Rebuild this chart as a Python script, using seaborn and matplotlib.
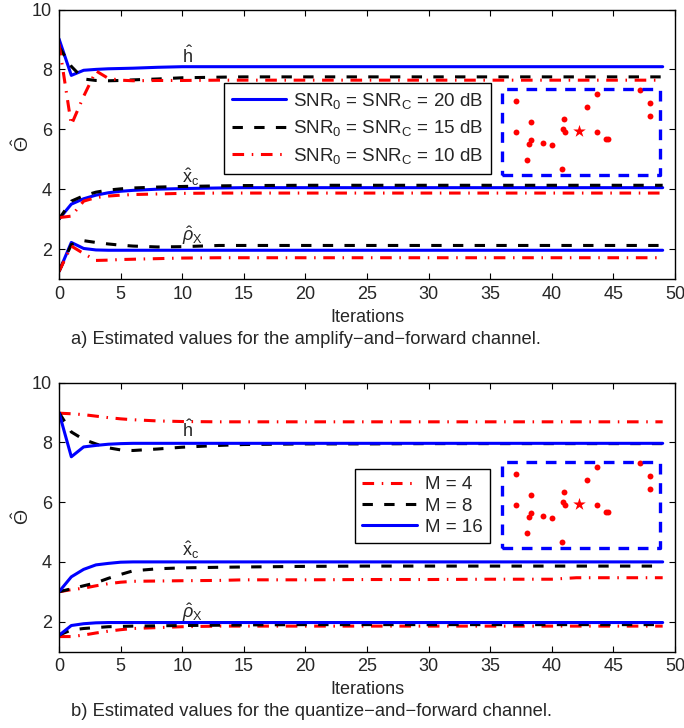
import matplotlib
matplotlib.use("Agg")
import matplotlib.pyplot as plt
from matplotlib.patches import Rectangle
import seaborn as sns
import pandas as pd

# ---------------- data ----------------
iters = [0, 1, 2, 3, 4, 5, 6, 8, 10, 13, 15, 20, 25, 30, 35, 40, 42, 45, 49]

# panel a) amplify-and-forward
a_h_20 = [9.02, 7.80, 7.97, 8.00, 8.02, 8.03, 8.04, 8.07, 8.09, 8.09, 8.09, 8.09, 8.09, 8.09, 8.09, 8.09, 8.09, 8.09, 8.09]
a_h_15 = [8.75, 8.10, 7.68, 7.63, 7.62, 7.63, 7.65, 7.68, 7.72, 7.74, 7.75, 7.75, 7.75, 7.75, 7.75, 7.75, 7.75, 7.75, 7.75]
a_h_10 = [8.85, 6.15, 7.10, 7.95, 7.70, 7.64, 7.62, 7.63, 7.63, 7.64, 7.64, 7.64, 7.64, 7.64, 7.64, 7.64, 7.64, 7.64, 7.64]
a_x_20 = [3.00, 3.50, 3.68, 3.80, 3.88, 3.93, 3.96, 4.00, 4.02, 4.04, 4.05, 4.05, 4.05, 4.05, 4.05, 4.05, 4.05, 4.05, 4.05]
a_x_15 = [3.00, 3.60, 3.78, 3.90, 3.97, 4.01, 4.04, 4.07, 4.09, 4.11, 4.12, 4.13, 4.13, 4.13, 4.13, 4.13, 4.13, 4.13, 4.13]
a_x_10 = [3.05, 3.10, 3.60, 3.72, 3.77, 3.80, 3.82, 3.84, 3.86, 3.87, 3.87, 3.87, 3.87, 3.87, 3.87, 3.87, 3.87, 3.87, 3.87]
a_r_20 = [1.25, 2.22, 2.02, 1.97, 1.96, 1.96, 1.96, 1.96, 1.96, 1.96, 1.96, 1.96, 1.96, 1.96, 1.96, 1.96, 1.96, 1.96, 1.96]
a_r_15 = [1.25, 2.15, 2.28, 2.22, 2.17, 2.13, 2.10, 2.07, 2.08, 2.12, 2.12, 2.12, 2.12, 2.12, 2.12, 2.12, 2.12, 2.12, 2.12]
a_r_10 = [1.25, 2.10, 1.85, 1.62, 1.63, 1.65, 1.66, 1.68, 1.70, 1.71, 1.71, 1.71, 1.71, 1.71, 1.71, 1.71, 1.71, 1.71, 1.71]

# panel b) quantize-and-forward
b_h_4 = [8.98, 8.96, 8.93, 8.88, 8.83, 8.79, 8.76, 8.72, 8.70, 8.69, 8.69, 8.69, 8.69, 8.69, 8.69, 8.69, 8.69, 8.69, 8.69]
b_h_8 = [9.00, 8.35, 8.10, 7.95, 7.82, 7.75, 7.73, 7.78, 7.84, 7.90, 7.93, 7.95, 7.95, 7.96, 7.96, 7.96, 7.96, 7.96, 7.96]
b_h_16 = [9.00, 7.52, 7.85, 7.90, 7.94, 7.96, 7.97, 7.97, 7.97, 7.97, 7.97, 7.97, 7.97, 7.97, 7.97, 7.97, 7.97, 7.97, 7.97]
b_x_4 = [3.00, 3.07, 3.12, 3.20, 3.27, 3.32, 3.35, 3.36, 3.37, 3.38, 3.40, 3.40, 3.41, 3.41, 3.42, 3.42, 3.47, 3.47, 3.47]
b_x_8 = [3.00, 3.10, 3.20, 3.30, 3.45, 3.58, 3.70, 3.77, 3.80, 3.82, 3.83, 3.85, 3.86, 3.86, 3.86, 3.86, 3.86, 3.86, 3.86]
b_x_16 = [3.00, 3.50, 3.75, 3.90, 3.95, 3.99, 4.00, 4.00, 4.00, 4.00, 4.00, 4.00, 4.00, 4.00, 4.00, 4.00, 4.00, 4.00, 4.00]
b_r_4 = [1.50, 1.50, 1.55, 1.62, 1.68, 1.73, 1.77, 1.80, 1.83, 1.85, 1.85, 1.85, 1.85, 1.85, 1.85, 1.85, 1.85, 1.85, 1.85]
b_r_8 = [1.55, 1.72, 1.77, 1.80, 1.83, 1.84, 1.85, 1.86, 1.87, 1.88, 1.89, 1.90, 1.90, 1.90, 1.90, 1.90, 1.90, 1.90, 1.90]
b_r_16 = [1.54, 1.87, 1.93, 1.96, 1.97, 1.97, 1.97, 1.97, 1.97, 1.97, 1.97, 1.97, 1.97, 1.97, 1.97, 1.97, 1.97, 1.97, 1.97]

legend_a = [r"SNR$_0$ = SNR$_\mathrm{C}$ = 20 dB", r"SNR$_0$ = SNR$_\mathrm{C}$ = 15 dB",
            r"SNR$_0$ = SNR$_\mathrm{C}$ = 10 dB"]
legend_b = ["M = 4", "M = 8", "M = 16"]
param_labels = [r"$\hat{\mathrm{h}}$", r"$\hat{\mathrm{x}}_{\mathrm{c}}$", r"$\hat{\rho}_{\mathrm{X}}$"]
label_a_y = [8.2, 4.2, 2.27]
label_b_y = [8.18, 4.2, 2.11]
xticks = [0, 5, 10, 15, 20, 25, 30, 35, 40, 45, 50]
yticks = [2, 4, 6, 8, 10]
caption_a = "a) Estimated values for the amplify\u2212and\u2212forward channel."
caption_b = "b) Estimated values for the quantize\u2212and\u2212forward channel."

# constellation inset (points inside the dashed box, box units 162 x 90)
const_x = [16, 31, 16, 31, 29, 43, 52, 27, 62, 64, 63, 65, 87, 97, 97, 106, 108, 140, 150, 150]
const_y = [76, 55, 45, 37, 33, 34, 32, 17, 8, 58, 48, 45, 70, 83, 45, 38, 38, 87, 74, 61]
star_x = [79]
star_y = [46]

# ---------------- style ----------------
sns.set_theme(style="ticks")
plt.rcParams["font.family"] = ["Liberation Sans", "DejaVu Sans"]
plt.rcParams["mathtext.fontset"] = "custom"
plt.rcParams["mathtext.rm"] = "Liberation Sans"
plt.rcParams["mathtext.it"] = "Liberation Sans:italic"
plt.rcParams["mathtext.sf"] = "Liberation Sans"
plt.rcParams["xtick.direction"] = "in"
plt.rcParams["ytick.direction"] = "in"
plt.rcParams["axes.linewidth"] = 1.0

BLUE = (0, 0, 1)
RED = (1, 0, 0)
BLACK = (0, 0, 0)
LW = 2.2
SOLID = "-"
DASH = (0, (3.4, 3.7))
DASHDOT = (0, (3.8, 2.5, 0.5, 2.5))

fig = plt.figure(figsize=(6.84, 7.28), dpi=100)
ax1 = fig.add_axes([59 / 684, 1 - 279 / 728, 616 / 684, 269.5 / 728])
ax2 = fig.add_axes([59 / 684, 1 - 651.5 / 728, 616 / 684, 268.8 / 728])


def draw_series(ax, series, specs, labels):
    for vals, (col, ls), lab in zip(series, specs, labels):
        df = pd.DataFrame({"it": iters, "v": vals})
        sns.lineplot(data=df, x="it", y="v", ax=ax, color=col, linestyle=ls,
                     lw=LW, label=lab, legend=False)


def style_axes(ax, label_y):
    ax.set_xlim(0, 50)
    ax.set_ylim(1, 10)
    ax.set_xticks(xticks)
    ax.set_yticks(yticks)
    ax.tick_params(axis="both", which="both", top=True, right=True, labelsize=13,
                   length=4, width=0.8, color="black", pad=5)
    for s in ax.spines.values():
        s.set_visible(True)
        s.set_color("black")
    ax.set_xlabel("Iterations", fontsize=13, labelpad=4)
    ax.set_ylabel(r"$\hat{\Theta}$", fontsize=14, labelpad=-1)
    ax.grid(False)
    for txt, yy in zip(param_labels, label_y):
        ax.text(10.0, yy, txt, fontsize=13, ha="left", va="baseline")
    # constellation inset
    ins = ax.inset_axes([0.716, 0.378, 0.263, 0.334])
    sns.scatterplot(x=const_x, y=const_y, ax=ins, color=RED, s=18, linewidth=0)
    sns.scatterplot(x=star_x, y=star_y, ax=ins, color=RED, marker="*", s=90, linewidth=0)
    ins.set_xlim(0, 162)
    ins.set_ylim(0, 90)
    ins.set_xticks([])
    ins.set_yticks([])
    ins.set_xlabel("")
    ins.set_ylabel("")
    ins.axis("off")
    ins.add_patch(Rectangle((0.01, 0.02), 0.98, 0.96, transform=ins.transAxes, fill=False,
                            edgecolor=BLUE, lw=2.4, linestyle=(0, (3.2, 2.6)),
                            joinstyle="round", clip_on=False))


# panel a
draw_series(ax1, [a_h_20, a_h_15, a_h_10], [(BLUE, SOLID), (BLACK, DASH), (RED, DASHDOT)], legend_a)
draw_series(ax1, [a_x_20, a_x_15, a_x_10], [(BLUE, SOLID), (BLACK, DASH), (RED, DASHDOT)], [None] * 3)
draw_series(ax1, [a_r_20, a_r_15, a_r_10], [(BLUE, SOLID), (BLACK, DASH), (RED, DASHDOT)], [None] * 3)
style_axes(ax1, label_a_y)
h1, l1 = ax1.get_legend_handles_labels()
leg1 = ax1.legend(h1[:3], legend_a, loc="upper left", bbox_to_anchor=(0.268, 0.728),
                  borderaxespad=0, fontsize=13.5, handlelength=2.9, labelspacing=0.4,
                  handletextpad=0.35, borderpad=0.42, fancybox=False, framealpha=1,
                  edgecolor="black")
leg1.get_frame().set_linewidth(1.0)

# panel b
draw_series(ax2, [b_h_4, b_h_8, b_h_16], [(RED, DASHDOT), (BLACK, DASH), (BLUE, SOLID)], legend_b)
draw_series(ax2, [b_x_4, b_x_8, b_x_16], [(RED, DASHDOT), (BLACK, DASH), (BLUE, SOLID)], [None] * 3)
draw_series(ax2, [b_r_4, b_r_8, b_r_16], [(RED, DASHDOT), (BLACK, DASH), (BLUE, SOLID)], [None] * 3)
style_axes(ax2, label_b_y)
h2, l2 = ax2.get_legend_handles_labels()
leg2 = ax2.legend(h2[:3], legend_b, loc="upper left", bbox_to_anchor=(0.48, 0.68),
                  borderaxespad=0, fontsize=13.5, handlelength=2.9, labelspacing=0.22,
                  handletextpad=0.45, borderpad=0.4, fancybox=False, framealpha=1,
                  edgecolor="black")
leg2.get_frame().set_linewidth(1.0)

fig.text(71 / 684, 1 - 340 / 728, caption_a, fontsize=13.2, ha="left", va="center")
fig.text(71 / 684, 1 - 712 / 728, caption_b, fontsize=13.2, ha="left", va="center")

fig.savefig("out.png", dpi=100)
